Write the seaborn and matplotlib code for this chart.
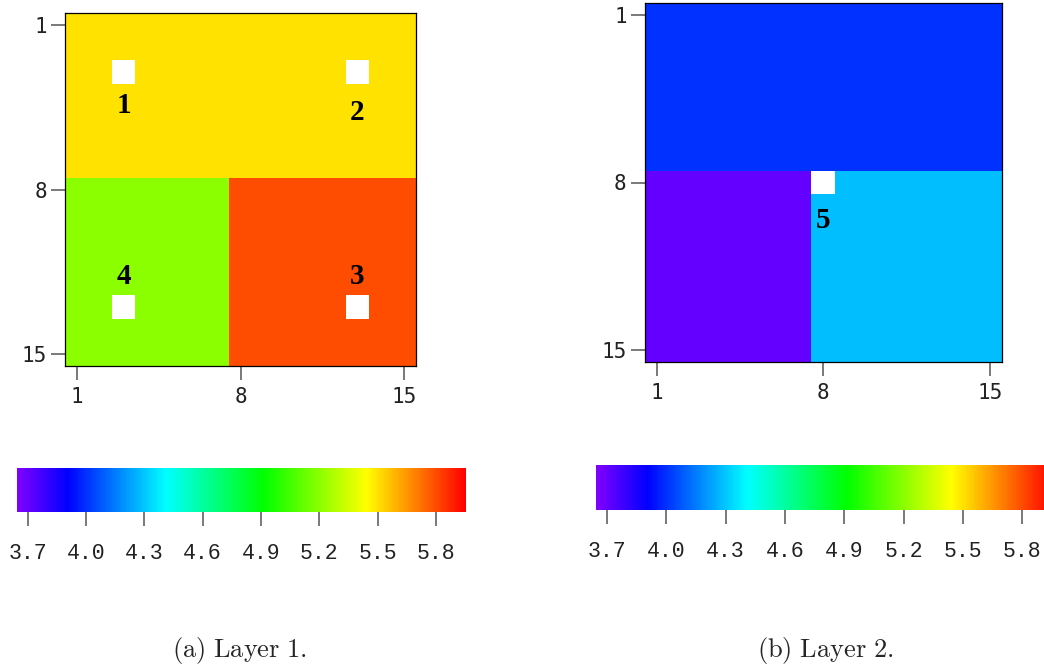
import numpy as np
import matplotlib
matplotlib.use("Agg")
import matplotlib.pyplot as plt
import seaborn as sns
from matplotlib.colors import LinearSegmentedColormap, Normalize
import matplotlib.colorbar as mcolorbar

sns.set_style("white")
plt.rcParams['font.family'] = ['DejaVu Sans Mono', 'DejaVu Sans']
plt.rcParams['mathtext.fontset'] = 'cm'

# ---- data ----
grid_size = 15
split = 7  # rows/cols 1..7 vs 8..15
layer1_top = 5.5
layer1_bottom_left = 5.2
layer1_bottom_right = 5.8
layer2_top = 4.0
layer2_bottom_left = 3.7
layer2_bottom_right = 4.28

layer1_wells_row = [3, 3, 13, 13]
layer1_wells_col = [3, 13, 13, 3]
layer1_well_names = ["1", "2", "3", "4"]
layer2_wells_row = [8]
layer2_wells_col = [8]
layer2_well_names = ["5"]

axis_ticks = [1, 8, 15]
cbar_ticks = [3.7, 4.0, 4.3, 4.6, 4.9, 5.2, 5.5, 5.8]
vmin, vmax = 3.645, 5.955
captions = [r"$\mathrm{(a)\ Layer\ 1.}$", r"$\mathrm{(b)\ Layer\ 2.}$"]

cmap = LinearSegmentedColormap.from_list(
    "rainbow_custom",
    [(0.0, (0.5, 0.0, 1.0)), (0.111, (0.0, 0.0, 1.0)), (0.331, (0.0, 1.0, 1.0)),
     (0.549, (0.0, 1.0, 0.0)), (0.779, (1.0, 1.0, 0.0)), (1.0, (1.0, 0.0, 0.0))])


def build(top, bl, br, wr, wc):
    m = np.empty((grid_size, grid_size))
    m[:split, :] = top
    m[split:, :split] = bl
    m[split:, split:] = br
    for r, c in zip(wr, wc):
        m[r - 1, c - 1] = np.nan
    return m


L1 = build(layer1_top, layer1_bottom_left, layer1_bottom_right, layer1_wells_row, layer1_wells_col)
L2 = build(layer2_top, layer2_bottom_left, layer2_bottom_right, layer2_wells_row, layer2_wells_col)

W, H = 1044, 668
fig = plt.figure(figsize=(W / 100, H / 100), dpi=100)
fig.patch.set_facecolor("white")


def px_axes(x0, x1, y0, y1):
    return fig.add_axes([x0 / W, 1 - y1 / H, (x1 - x0) / W, (y1 - y0) / H])


ax1 = px_axes(65.3, 415.7, 13.3, 366.0)
ax2 = px_axes(644.8, 1001.6, 3.0, 362.0)

label_font = dict(family="Liberation Serif", weight="bold", fontsize=21, color="black",
                  ha="center", va="center")

for ax, data, wr, wc, names, offs in [
        (ax1, L1, layer1_wells_row, layer1_wells_col, layer1_well_names, [1.4, 1.7, -1.3, -1.3]),
        (ax2, L2, layer2_wells_row, layer2_wells_col, layer2_well_names, [1.57])]:
    ax.set_facecolor("white")
    sns.heatmap(data, ax=ax, cmap=cmap, vmin=vmin, vmax=vmax, cbar=False,
                xticklabels=False, yticklabels=False, linewidths=0)
    ax.set_xticks([t - 0.5 for t in axis_ticks])
    ax.set_xticklabels([str(t) for t in axis_ticks])
    ax.set_yticks([t - 0.5 for t in axis_ticks])
    ax.set_yticklabels([str(t) for t in axis_ticks], rotation=0)
    ax.tick_params(axis="both", direction="out", length=10, width=1.1, color="#555555",
                   labelsize=15, labelcolor="#222222", bottom=True, left=True)
    ax.tick_params(axis="x", pad=5)
    ax.tick_params(axis="y", pad=3)
    for s in ax.spines.values():
        s.set_visible(True)
        s.set_color("black")
        s.set_linewidth(0.9)
    for r, c, n, o in zip(wr, wc, names, offs):
        ax.text(c - 0.5, r - 0.5 + o, n, **label_font)

norm = Normalize(vmin=vmin, vmax=vmax)
cax1 = px_axes(17, 466, 468, 512)
cax2 = px_axes(596, 1053, 465, 510)
for cax in (cax1, cax2):
    cb = mcolorbar.ColorbarBase(cax, cmap=cmap, norm=norm, orientation="horizontal",
                                ticks=cbar_ticks)
    cb.outline.set_visible(False)
    cax.set_xticklabels([f"{t:.1f}" for t in cbar_ticks], family="Liberation Mono", fontsize=15.5)
    cax.tick_params(axis="x", direction="out", length=10, width=1.1, color="#555555",
                    labelcolor="#222222", pad=12)

fig.text(240 / W, 1 - 651 / H, captions[0], ha="center", va="center", fontsize=19)
fig.text(825 / W, 1 - 651 / H, captions[1], ha="center", va="center", fontsize=19)

fig.savefig("out.png", dpi=100, facecolor="white")
